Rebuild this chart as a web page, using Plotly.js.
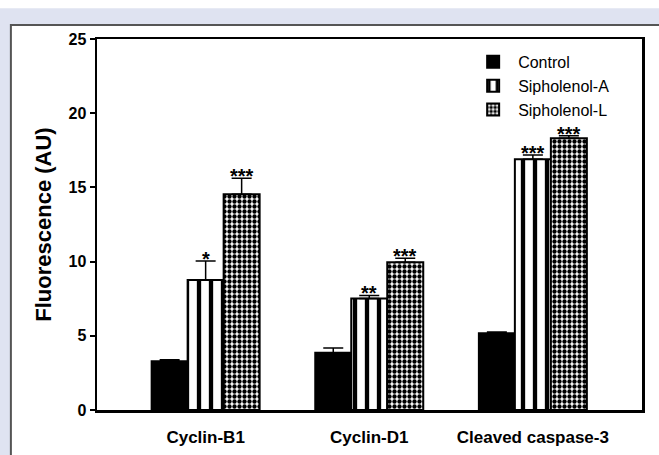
<!DOCTYPE html>
<html>
<head>
<meta charset="utf-8">
<script src="https://cdn.plot.ly/plotly-3.0.1.min.js"></script>
<style>html,body{margin:0;padding:0;background:#fff;}#chart{width:659px;height:455px;}</style>
</head>
<body>
<div id="chart"></div>
<script>
const categories = ["Cyclin-B1", "Cyclin-D1", "Cleaved caspase-3"];
const seriesNames = ["Control", "Sipholenol-A", "Sipholenol-L"];
const controlValues = [3.28, 3.86, 5.17];
const controlErrors = [0.10, 0.32, 0.09];
const sipholenolAValues = [8.76, 7.52, 16.89];
const sipholenolAErrors = [1.28, 0.20, 0.29];
const sipholenolLValues = [14.53, 9.95, 18.31];
const sipholenolLErrors = [1.08, 0.27, 0.17];
const sigA = ["*", "**", "***"];
const sigL = ["***", "***", "***"];
const yTicks = [0, 5, 10, 15, 20, 25];

const values = [controlValues, sipholenolAValues, sipholenolLValues];
const errors = [controlErrors, sipholenolAErrors, sipholenolLErrors];
const patterns = [
  {shape: ""},
  {shape: "|", size: 12, solidity: 0.36, fgcolor: "#000", bgcolor: "#fff", fillmode: "replace"},
  {shape: ".", size: 5, solidity: 0.6, fgcolor: "#000", bgcolor: "#fff", fillmode: "replace"}
];
const FONT = "Liberation Sans, Arial, sans-serif";

const traces = seriesNames.map((name, i) => ({
  type: "bar",
  name: name,
  x: categories,
  y: values[i],
  marker: {
    color: i === 0 ? "#000" : "#fff",
    line: {color: "#000", width: 2},
    pattern: patterns[i]
  },
  error_y: {
    type: "data", symmetric: false, array: errors[i],
    arrayminus: errors[i].map(() => 0),
    color: "#000", thickness: 1.5, width: 10
  }
}));

const barFrac = 0.22;
const annotations = [];
[[sipholenolAValues, sipholenolAErrors, sigA, 0], [sipholenolLValues, sipholenolLErrors, sigL, 1]].forEach(([v, e, s, off]) => {
  categories.forEach((c, j) => {
    annotations.push({
      x: j + off * barFrac, y: v[j] + e[j], xref: "x", yref: "y",
      text: "<b>" + s[j] + "</b>", showarrow: false, yanchor: "bottom", yshift: -11,
      font: {family: FONT, size: 20, color: "#000"}
    });
  });
});

const layout = {
  width: 659, height: 455,
  margin: {l: 97, r: 17, t: 39, b: 45},
  paper_bgcolor: "#dfe3f1",
  plot_bgcolor: "#fff",
  barmode: "group",
  bargap: 0.34, bargroupgap: 0,
  showlegend: true,
  legend: {
    x: 0.681, y: 0.984, xanchor: "left", yanchor: "top",
    bgcolor: "rgba(0,0,0,0)", borderwidth: 0,
    font: {family: FONT, size: 16, color: "#000"},
    tracegroupgap: 0, itemwidth: 40
  },
  xaxis: {
    type: "category", range: [-0.664, 2.667],
    showline: true, linecolor: "#000", linewidth: 2.5, mirror: true,
    ticks: "", showgrid: false, zeroline: false,
    tickfont: {family: FONT, size: 17, color: "#000", weight: "bold"},
    ticklabelstandoff: 10
  },
  yaxis: {
    range: [0, 25], tickvals: yTicks, ticktext: yTicks.map(String),
    showline: true, linecolor: "#000", linewidth: 2.5, mirror: true,
    ticks: "outside", ticklen: 5, tickwidth: 2, tickcolor: "#000",
    showgrid: false, zeroline: false,
    tickfont: {family: FONT, size: 16, color: "#000", weight: "bold"},
    title: {text: "Fluorescence (AU)", standoff: 11,
      font: {family: FONT, size: 22, color: "#000", weight: "bold"}}
  },
  shapes: [
    {type: "rect", xref: "paper", yref: "paper", x0: -0.158, x1: 1.2, y0: -0.3, y1: 1.0377,
     fillcolor: "#fff", line: {color: "#555", width: 2}, layer: "below"},
    {type: "rect", xref: "paper", yref: "paper", x0: -0.3, x1: 1.2, y0: 1.083, y1: 1.2,
     fillcolor: "#fff", line: {width: 0}, layer: "below"}
  ],
  annotations: annotations
};

Plotly.newPlot("chart", traces, layout, {displayModeBar: false, staticPlot: true});
</script>
</body>
</html>
